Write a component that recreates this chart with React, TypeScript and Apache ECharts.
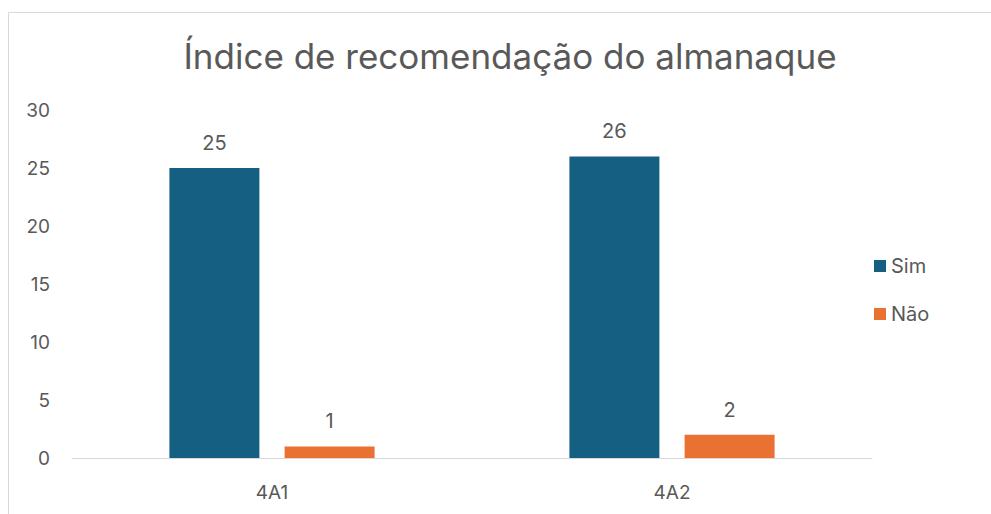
import React, { useEffect, useRef } from "react";
import * as echarts from "echarts";

const categories = ["4A1", "4A2"];
const simValues = [25, 26];
const naoValues = [1, 2];
const seriesNames = ["Sim", "Não"];
const titleText = "Índice de recomendação do almanaque";

const FONT = "Inter, 'Noto Sans', sans-serif";
const TEXT = "#595959";

export default function App() {
  const ref = useRef<HTMLDivElement>(null);
  useEffect(() => {
    if (!ref.current) return;
    const chart = echarts.init(ref.current, null, { renderer: "svg" });
    chart.setOption({
      animation: false,
      backgroundColor: "#ffffff",
      textStyle: { fontFamily: FONT },
      graphic: [
        {
          type: "rect",
          shape: { x: 8.5, y: 12.5, width: 1100, height: 700 },
          style: { fill: "none", stroke: "#d9d9d9", lineWidth: 1 },
          silent: true,
          z: -1,
        },
      ],
      title: {
        text: titleText,
        left: 505,
        textAlign: "center",
        top: 33,
        textStyle: { fontFamily: FONT, fontSize: 35, fontWeight: "normal", color: TEXT },
      },
      legend: {
        orient: "vertical",
        left: 869,
        top: 251,
        itemWidth: 12,
        itemHeight: 12,
        itemGap: 28,
        icon: "rect",
        data: seriesNames,
        textStyle: { fontFamily: FONT, fontSize: 20, color: TEXT },
      },
      grid: { left: 72, right: 119, top: 110, bottom: 56, containLabel: false },
      xAxis: {
        type: "category",
        data: categories,
        axisLine: { lineStyle: { color: "#d9d9d9", width: 1 } },
        axisTick: { show: false },
        axisLabel: { color: TEXT, fontSize: 19, fontFamily: FONT, margin: 25 },
      },
      yAxis: {
        type: "value",
        min: 0,
        max: 30,
        interval: 5,
        splitLine: { show: false },
        axisLine: { show: false },
        axisTick: { show: false },
        axisLabel: { color: TEXT, fontSize: 19, fontFamily: FONT, margin: 22 },
      },
      series: [
        {
          name: seriesNames[0],
          type: "bar",
          data: simValues,
          barWidth: 90,
          barGap: "28%",
          itemStyle: { color: "#156082" },
          label: { show: true, position: "top", distance: 15, color: TEXT, fontSize: 20, fontFamily: FONT },
        },
        {
          name: seriesNames[1],
          type: "bar",
          data: naoValues,
          barWidth: 90,
          barGap: "28%",
          itemStyle: { color: "#E97132" },
          label: { show: true, position: "top", distance: 15, color: TEXT, fontSize: 20, fontFamily: FONT },
        },
      ],
    });
    return () => chart.dispose();
  }, []);
  return (
    <div
      ref={ref}
      style={{ position: "fixed", left: 0, top: 0, width: 991, height: 514 }}
    />
  );
}
